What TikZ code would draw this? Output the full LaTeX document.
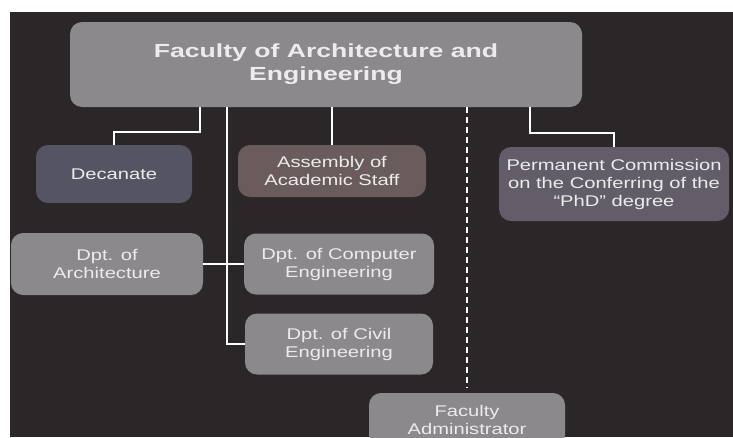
\documentclass[tikz,border=0pt]{standalone}
\usepackage{fontspec}
\usetikzlibrary{positioning}
\newfontfamily\orgfont[FakeStretch=1.3,Ligatures=TeX]{Liberation Sans}
\newfontfamily\orgtitlefont[FakeStretch=1.4]{Liberation Sans}
\definecolor{bgdark}{HTML}{2B2729}
\definecolor{boxgrey}{HTML}{8B898B}
\definecolor{boxblue}{HTML}{555463}
\definecolor{boxbrown}{HTML}{6A5B5C}
\definecolor{boxmauve}{HTML}{625D68}
\definecolor{txtwhite}{HTML}{ECECEC}

\begin{document}
\begin{tikzpicture}[x=1pt,y=-1pt,node distance=80pt,on grid,
    orgbox/.style={rectangle,rounded corners=12pt,fill=boxgrey,text=txtwhite,
      align=center,inner sep=0pt,font=\orgfont\fontsize{15.5}{18}\selectfont},
    link/.style={draw=white,line width=1.4pt}]
    \clip (0,0) rectangle (733,437);
    \fill[white] (0,0) rectangle (733,437);
    \fill[bgdark] (10,12) rectangle (733,437);
    % top of the chart
    \node[orgbox,minimum width=512pt,minimum height=85pt,
      font=\orgtitlefont\bfseries\fontsize{19}{23}\selectfont] (fac) at (326,64.5)
      {Faculty of Architecture and\\Engineering};
    \node[orgbox,fill=boxblue,minimum width=156pt,minimum height=58pt] (dec) at (114,174) {Decanate};
    \node[orgbox,fill=boxbrown,minimum width=188pt,minimum height=52pt] (asm) at (332,171) {Assembly of\\Academic Staff};
    \node[orgbox,fill=boxmauve,minimum width=230pt,minimum height=74pt] (perm) at (614,184)
      {Permanent Commission\\on the Conferring of the\\“PhD” degree};
    % departments
    \node[orgbox,minimum width=190pt,minimum height=61pt] (comp) at (339,264) {Dpt. of Computer\\Engineering};
    \node[orgbox,minimum width=192pt,minimum height=62pt] (arch) [left=232pt of comp] {Dpt. of\\Architecture};
    \node[orgbox,minimum width=188pt,minimum height=61pt] (civ) [below=80pt of comp] {Dpt. of Civil\\Engineering};
    \node[orgbox,minimum width=196pt,minimum height=54pt] (adm) at (467,420) {Faculty\\Administrator};
    \path[link]
    ([xshift=-126pt]fac.south) |- ([yshift=13pt]dec.north) -- (dec.north)
    (fac.south -| asm.north) -- (asm.north)
    ([xshift=204pt]fac.south) |- ([yshift=14pt]perm.north) -- (perm.north)
    ([xshift=-99pt]fac.south) |- (civ.west)
    (arch.east) -- (comp.west)
    ; %end path
    \draw[link,line width=1.2pt,dash pattern=on 6pt off 4pt]
    (fac.south -| adm.north) -- ([yshift=5pt]adm.north);
\end{tikzpicture}
\end{document}
